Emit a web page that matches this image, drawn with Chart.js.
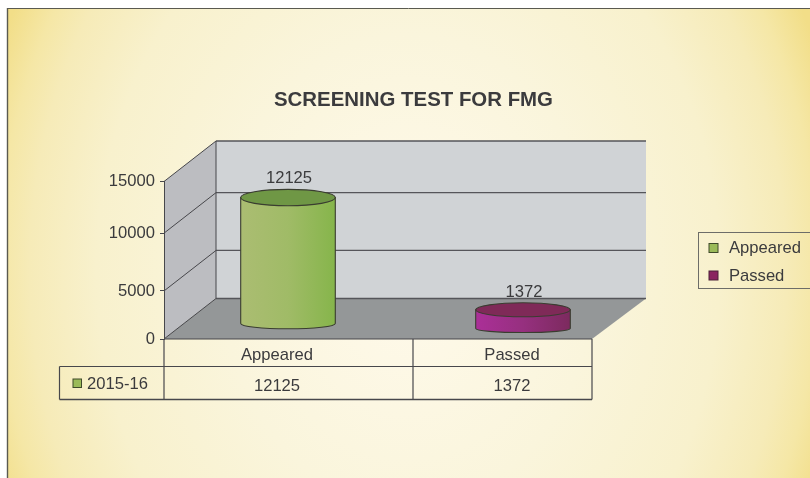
<!DOCTYPE html>
<html><head><meta charset="utf-8">
<style>html,body{margin:0;padding:0;background:#fff}#w{width:810px;height:478px}canvas{display:block}</style>
<script src="https://cdn.jsdelivr.net/npm/chart.js@4/dist/chart.umd.js"></script>
</head><body><div id="w"><canvas id="c" width="810" height="478"></canvas></div>
<script>
const titleText = 'SCREENING TEST FOR FMG';
const categories = ['Appeared', 'Passed'];
const seriesName = '2015-16';
const values = [12125, 1372];
const yTicks = [0, 5000, 10000, 15000];

// the printed axis has uneven steps: share of axis height reached at each tick
const tickShares = [0, 0.305, 0.672, 1];

// styling and placement
const FONT = '"Liberation Sans", Arial, sans-serif';
const SIZE = 16.6;
const INK = '#3b3b3d', LINE = '#47474b';
const DX = 52, DXR = 54, DY = 40.5;
const barShiftX = [-9, 12], barShiftTop = [-13.6, -16], barShiftBase = [-15, -10];
const labelShiftX = [6, 27];
const barHalfW = 47.3, topRy = [8.2, 7], footRy = [5.3, 4];
const bodyStops = [['#abbd72', '#a0bb67', '#86b54b'], ['#ab2f98', '#96307f', '#7c2a5e']];
const topFill = ['#6f9745', '#7f2a58'];
const keyFill = ['#9bbb59', '#8a2460'];

class UnevenScale extends Chart.LinearScale {
  static id = 'uneven';
  static defaults = Chart.LinearScale.defaults;
  getPixelForValue(v) {
    const h = this.bottom - this.top;
    let i = 0;
    while (i < yTicks.length - 2 && v > yTicks[i + 1]) i++;
    const s = tickShares[i] + (v - yTicks[i]) / (yTicks[i + 1] - yTicks[i]) * (tickShares[i + 1] - tickShares[i]);
    return this.bottom - s * h;
  }
  getValueForPixel(p) {
    const s = (this.bottom - p) / (this.bottom - this.top);
    let i = 0;
    while (i < tickShares.length - 2 && s > tickShares[i + 1]) i++;
    return yTicks[i] + (s - tickShares[i]) / (tickShares[i + 1] - tickShares[i]) * (yTicks[i + 1] - yTicks[i]);
  }
}
Chart.register(UnevenScale);

function poly(ctx, pts, fill, stroke) {
  ctx.beginPath();
  pts.forEach((p, i) => i ? ctx.lineTo(p[0], p[1]) : ctx.moveTo(p[0], p[1]));
  ctx.closePath();
  if (fill) { ctx.fillStyle = fill; ctx.fill(); }
  if (stroke) { ctx.strokeStyle = stroke; ctx.stroke(); }
}
function seg(ctx, x0, y0, x1, y1, color, w) {
  ctx.beginPath(); ctx.moveTo(x0, y0); ctx.lineTo(x1, y1);
  ctx.strokeStyle = color || LINE; ctx.lineWidth = w || 1; ctx.stroke();
}
function text(ctx, s, x, y, size, align, bold, maxW) {
  ctx.font = (bold ? 'bold ' : '') + size + 'px ' + FONT;
  ctx.fillStyle = INK; ctx.textAlign = align || 'center'; ctx.textBaseline = 'middle';
  if (maxW) ctx.fillText(s, x, y, maxW); else ctx.fillText(s, x, y);
}

const scene = {
  id: 'scene',
  beforeDraw(chart) {
    const ctx = chart.ctx, W = chart.width, H = chart.height;
    const a = chart.chartArea, y = chart.scales.y;
    ctx.save();
    ctx.fillStyle = '#fff'; ctx.fillRect(0, 0, W, H);
    // panel
    ctx.save();
    ctx.beginPath(); ctx.rect(7, 8, W - 7, H - 8); ctx.clip();
    ctx.translate(408, 270); ctx.scale(1, 560 / 445);
    const g = ctx.createRadialGradient(0, 0, 0, 0, 0, 445);
    g.addColorStop(0, '#fffaec'); g.addColorStop(0.42, '#faf5dc'); g.addColorStop(0.7, '#f8f1cd');
    g.addColorStop(0.85, '#f6ebb8'); g.addColorStop(0.92, '#f5e7a6'); g.addColorStop(1, '#f2de88');
    ctx.fillStyle = g; ctx.fillRect(-500, -400, 1000, 800);
    ctx.restore();
    seg(ctx, 7.5, 8, 7.5, H, '#5a5a50', 1.4);
    seg(ctx, 7, 8.5, W, 8.5, '#5a5a50', 1);

    text(ctx, titleText, 413.5, 100, 21, 'center', true, 279);

    // walls
    const L = a.left, R = a.right, T = y.getPixelForValue(yTicks[yTicks.length - 1]), B = y.getPixelForValue(0);
    ctx.lineWidth = 1;
    poly(ctx, [[L + DX, T - DY], [R + DXR, T - DY], [R + DXR, B - DY], [L + DX, B - DY]], '#d0d3d6');
    poly(ctx, [[L, T], [L + DX, T - DY], [L + DX, B - DY], [L, B]], '#bcbdc1');
    poly(ctx, [[L, B], [R, B], [R + DXR, B - DY], [L + DX, B - DY]], '#949798');
    yTicks.forEach(v => {
      const p = y.getPixelForValue(v);
      seg(ctx, L, p, L + DX, p - DY);
      seg(ctx, L + DX, p - DY, R + DXR, p - DY, '#55555a', 1.3);
    });
    seg(ctx, L + DX, T - DY, L + DX, B - DY);
    seg(ctx, L, B, R, B, LINE, 1.2);
    ctx.restore();
  },
  afterDatasetsDraw(chart) {
    const ctx = chart.ctx, a = chart.chartArea;
    const bars = chart.getDatasetMeta(0).data;
    ctx.save();
    // cylinders from the bar elements
    bars.forEach((el, i) => {
      const cx = el.x + DX / 2 + barShiftX[i];
      const top = el.y + barShiftTop[i], base = el.base + barShiftBase[i];
      const g = ctx.createLinearGradient(cx - barHalfW, 0, cx + barHalfW, 0);
      bodyStops[i].forEach((c, k) => g.addColorStop(k / 2, c));
      ctx.beginPath();
      ctx.moveTo(cx - barHalfW, top);
      ctx.lineTo(cx - barHalfW, base);
      ctx.ellipse(cx, base, barHalfW, footRy[i], 0, Math.PI, 0, true);
      ctx.lineTo(cx + barHalfW, top);
      ctx.closePath();
      ctx.fillStyle = g; ctx.fill();
      ctx.strokeStyle = '#3a3d30'; ctx.lineWidth = 1.1; ctx.stroke();
      ctx.beginPath();
      ctx.ellipse(cx, top, barHalfW, topRy[i], 0, 0, Math.PI * 2);
      ctx.fillStyle = topFill[i]; ctx.fill(); ctx.stroke();
      text(ctx, String(values[i]), cx + 1, top - topRy[i] - 10.5, SIZE);
    });

    // data table
    const colX = [a.left, 413, a.right], r1 = 366.5, r2 = 399.5, tableLeft = 59.5;
    seg(ctx, a.left, a.bottom, a.left, r2, LINE, 1.2);
    seg(ctx, colX[1], a.bottom, colX[1], r2, LINE, 1.2);
    seg(ctx, colX[2], a.bottom, colX[2], r2, LINE, 1.2);
    seg(ctx, tableLeft, r1, a.right, r1, LINE, 1.2);
    seg(ctx, tableLeft, r2, a.right, r2, LINE, 1.4);
    seg(ctx, tableLeft, r1, tableLeft, r2, LINE, 1.2);
    categories.forEach((c, i) => {
      const x = bars[i].x + labelShiftX[i];
      text(ctx, c, x, 355.5, SIZE);
      text(ctx, String(values[i]), x, 386, SIZE);
    });
    ctx.fillStyle = keyFill[0]; ctx.fillRect(73, 379, 8.5, 8.5);
    ctx.strokeStyle = '#3f4a2a'; ctx.lineWidth = 1; ctx.strokeRect(73, 379, 8.5, 8.5);
    text(ctx, seriesName, 87, 384.5, SIZE, 'left');

    // legend
    ctx.strokeStyle = '#6d6d68'; ctx.lineWidth = 1;
    ctx.strokeRect(698.5, 232.5, 130, 56);
    categories.forEach((c, i) => {
      const yy = 248 + i * 27.5;
      ctx.fillStyle = keyFill[i]; ctx.fillRect(709, yy - 4.5, 9, 9);
      ctx.strokeStyle = i ? '#4a2038' : '#3f4a2a'; ctx.strokeRect(709, yy - 4.5, 9, 9);
      text(ctx, c, 729, yy + 0.5, SIZE, 'left');
    });
    ctx.restore();
  }
};

new Chart(document.getElementById('c'), {
  type: 'bar',
  data: { labels: categories, datasets: [{ label: seriesName, data: values, backgroundColor: 'rgba(0,0,0,0)', borderWidth: 0 }] },
  options: {
    responsive: false, animation: false,
    layout: { padding: { left: 0, right: 218, top: 181.5, bottom: 139 } },
    plugins: { legend: { display: false }, title: { display: false }, tooltip: { enabled: false } },
    scales: {
      x: { display: false, grid: { display: false } },
      y: {
        type: 'uneven', min: 0, max: 15000,
        afterBuildTicks: s => { s.ticks = yTicks.map(v => ({ value: v })); },
        afterFit: s => { s.width = 164; },
        border: { display: true, color: LINE, width: 1 },
        grid: { drawOnChartArea: false, drawTicks: true, tickLength: 4, color: LINE },
        ticks: { color: INK, padding: 5, font: { family: FONT, size: SIZE }, callback: v => String(v) }
      }
    }
  },
  plugins: [scene]
});
</script></body></html>
